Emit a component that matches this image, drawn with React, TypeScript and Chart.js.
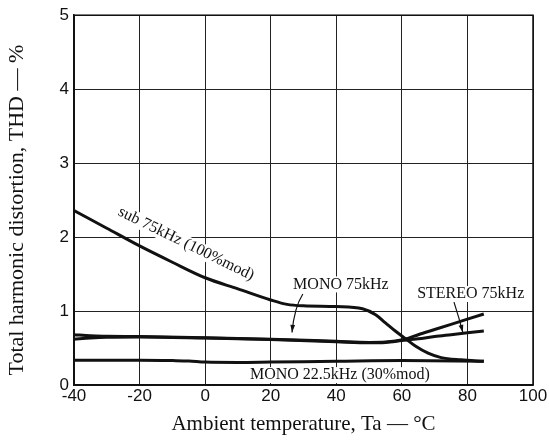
import React, { useEffect, useRef } from "react";
import { Chart, registerables } from "chart.js";

Chart.register(...registerables);

// ---- data ----
const subTemps = [-40, -30, -20, -10, 0, 10, 20, 25, 30, 40, 48, 52, 55, 58, 61, 64, 68, 72, 78, 85];
const subTHD = [2.36, 2.12, 1.88, 1.66, 1.45, 1.3, 1.15, 1.09, 1.07, 1.06, 1.03, 0.95, 0.84, 0.73, 0.63, 0.53, 0.43, 0.37, 0.34, 0.32];

const mono75Temps = [-40, -35, -30, -20, 0, 20, 40, 50, 55, 61, 65, 70, 75, 80, 85];
const mono75THD = [0.68, 0.665, 0.66, 0.655, 0.64, 0.62, 0.59, 0.575, 0.58, 0.62, 0.68, 0.75, 0.82, 0.89, 0.96];

const stereo75Temps = [-40, -35, -30, -20, 0, 20, 40, 50, 55, 60, 65, 70, 75, 80, 85];
const stereo75THD = [0.62, 0.635, 0.645, 0.65, 0.635, 0.615, 0.585, 0.57, 0.575, 0.6, 0.625, 0.655, 0.68, 0.705, 0.73];

const mono225Temps = [-40, -20, -10, -5, 0, 10, 20, 40, 60, 85];
const mono225THD = [0.335, 0.335, 0.33, 0.325, 0.31, 0.305, 0.31, 0.32, 0.33, 0.32];

const xTicks = [-40, -20, 0, 20, 40, 60, 80, 100];
const yTicks = [0, 1, 2, 3, 4, 5];

const xTitle = "Ambient temperature, Ta \u2014 \u00B0C";
const yTitle = "Total harmonic distortion, THD \u2014 %";

// curve labels (data coordinates)
const labelTexts = ["sub 75kHz (100%mod)", "MONO 75kHz", "STEREO 75kHz", "MONO 22.5kHz (30%mod)"];
const labelT = [-5.8, 41.4, 81.0, 41.1];
const labelV = [1.91, 1.36, 1.23, 0.134];
const labelAngle = [26, 0, 0, 0];

// arrows: start (T,V), control (T,V), end (T,V)
const arrowFrom = [[29.8, 1.23], [75.9, 1.12]];
const arrowCtrl = [[27.2, 1.05], [77.5, 0.9]];
const arrowTo = [[26.5, 0.71], [78.6, 0.71]];

const pts = (xs: number[], ys: number[]) => xs.map((x, i) => ({ x, y: ys[i] }));

const SERIF = "'Liberation Serif', 'Times New Roman', serif";
const LABEL_FONT = "16px " + SERIF;

const annotationPlugin = {
  id: "curveLabels",
  beforeDatasetsDraw(chart: any) {
    // white knock-out behind curve labels (hides grid lines)
    const { ctx, scales } = chart;
    ctx.save();
    ctx.font = LABEL_FONT;
    ctx.fillStyle = "#fff";
    labelTexts.forEach((t, i) => {
      const px = scales.x.getPixelForValue(labelT[i]);
      const py = scales.y.getPixelForValue(labelV[i]);
      const w = ctx.measureText(t).width;
      ctx.save();
      ctx.translate(px, py);
      ctx.rotate((labelAngle[i] * Math.PI) / 180);
      ctx.fillRect(-w / 2 - 2, -8, w + 4, 16);
      ctx.restore();
    });
    ctx.restore();
  },
  afterDatasetsDraw(chart: any) {
    const { ctx, scales, chartArea } = chart;
    const xs = scales.x;
    const ys = scales.y;
    ctx.save();
    // frame
    ctx.strokeStyle = "#111";
    ctx.lineWidth = 1.5;
    ctx.strokeRect(chartArea.left, chartArea.top, chartArea.right - chartArea.left, chartArea.bottom - chartArea.top);

    // y title
    ctx.fillStyle = "#111";
    ctx.font = "22px " + SERIF;
    ctx.textAlign = "center";
    ctx.textBaseline = "middle";
    ctx.save();
    ctx.translate(17, (chartArea.top + chartArea.bottom) / 2 + 10);
    ctx.rotate(-Math.PI / 2);
    ctx.fillText(yTitle, 0, 0);
    ctx.restore();

    ctx.font = LABEL_FONT;
    labelTexts.forEach((t, i) => {
      const px = xs.getPixelForValue(labelT[i]);
      const py = ys.getPixelForValue(labelV[i]);
      ctx.save();
      ctx.translate(px, py);
      ctx.rotate((labelAngle[i] * Math.PI) / 180);
      ctx.fillText(t, 0, 0);
      ctx.restore();
    });
    ctx.strokeStyle = "#111";
    ctx.lineWidth = 1.2;
    arrowFrom.forEach((f, i) => {
      const x0 = xs.getPixelForValue(f[0]);
      const y0 = ys.getPixelForValue(f[1]);
      const cx = xs.getPixelForValue(arrowCtrl[i][0]);
      const cy = ys.getPixelForValue(arrowCtrl[i][1]);
      const x1 = xs.getPixelForValue(arrowTo[i][0]);
      const y1 = ys.getPixelForValue(arrowTo[i][1]);
      ctx.beginPath();
      ctx.moveTo(x0, y0);
      ctx.quadraticCurveTo(cx, cy, x1, y1);
      ctx.stroke();
      const ang = Math.atan2(y1 - cy, x1 - cx);
      const len = 8;
      const wid = 0.3;
      ctx.beginPath();
      ctx.moveTo(x1, y1);
      ctx.lineTo(x1 - len * Math.cos(ang - wid), y1 - len * Math.sin(ang - wid));
      ctx.lineTo(x1 - len * Math.cos(ang + wid), y1 - len * Math.sin(ang + wid));
      ctx.closePath();
      ctx.fillStyle = "#111";
      ctx.fill();
    });
    ctx.restore();
  },
};

export default function App() {
  const ref = useRef<HTMLCanvasElement | null>(null);
  useEffect(() => {
    if (!ref.current) return;
    const lineDs = (label: string, data: any[], w: number) => ({
      label,
      data,
      borderColor: "#111",
      borderWidth: w,
      pointRadius: 0,
      fill: false,
      tension: 0.4,
      cubicInterpolationMode: "monotone" as const,
    });
    const chart = new Chart(ref.current, {
      type: "line",
      data: {
        datasets: [
          lineDs("sub 75kHz (100%mod)", pts(subTemps, subTHD), 3),
          lineDs("MONO 75kHz", pts(mono75Temps, mono75THD), 3),
          lineDs("STEREO 75kHz", pts(stereo75Temps, stereo75THD), 3),
          lineDs("MONO 22.5kHz (30%mod)", pts(mono225Temps, mono225THD), 3),
        ],
      },
      options: {
        responsive: false,
        animation: false,
        layout: { padding: { left: 0, top: 11, right: 16, bottom: 0 } },
        plugins: { legend: { display: false }, tooltip: { enabled: false } },
        scales: {
          x: {
            type: "linear",
            min: -40,
            max: 100,
            afterBuildTicks: (s: any) => {
              s.ticks = xTicks.map((v) => ({ value: v }));
            },
            afterFit: (s: any) => {
              s.height = 55;
            },
            ticks: {
              color: "#111",
              padding: 1,
              font: { family: "'Liberation Sans', Arial, sans-serif", size: 17 },
              maxRotation: 0,
            },
            grid: { color: "#222", lineWidth: 1, drawTicks: false },
            border: { color: "#111", width: 1.5 },
            title: {
              display: true,
              text: xTitle,
              color: "#111",
              font: { family: SERIF, size: 21 },
              padding: { top: 0, bottom: 3 },
            },
          },
          y: {
            type: "linear",
            min: 0,
            max: 5,
            afterBuildTicks: (s: any) => {
              s.ticks = yTicks.map((v) => ({ value: v }));
            },
            afterFit: (s: any) => {
              s.width = 74;
            },
            ticks: {
              color: "#111",
              padding: 5,
              font: { family: "'Liberation Sans', Arial, sans-serif", size: 17 },
            },
            grid: { color: "#222", lineWidth: 1, drawTicks: false },
            border: { color: "#111", width: 1.5 },
            title: { display: false, text: yTitle },
          },
        },
      },
      plugins: [annotationPlugin],
    });
    return () => chart.destroy();
  }, []);
  return (
    <div style={{ position: "fixed", left: 0, top: 0, width: 549, height: 440, background: "#fff" }}>
      <canvas ref={ref} width={549} height={440} />
    </div>
  );
}
